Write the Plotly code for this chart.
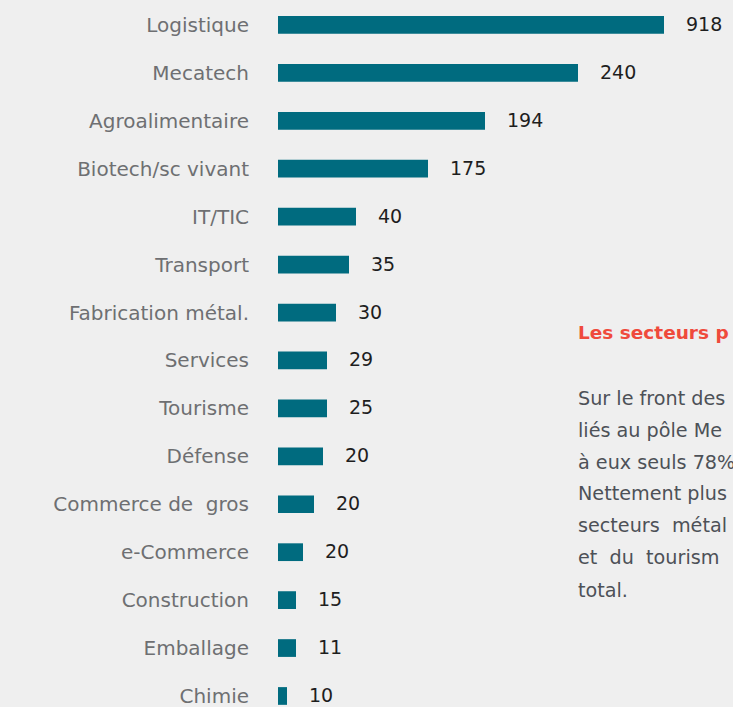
import plotly.graph_objects as go

# Data (top to bottom)
categories = ["Logistique", "Mecatech", "Agroalimentaire", "Biotech/sc vivant", "IT/TIC",
              "Transport", "Fabrication métal.", "Services", "Tourisme", "Défense",
              "Commerce de\u00a0\u00a0gros", "e-Commerce", "Construction", "Emballage", "Chimie"]
values = [918, 240, 194, 175, 40, 35, 30, 29, 25, 20, 20, 20, 15, 11, 10]
# relative bar lengths as drawn in the infographic (not proportional to values)
bar_lengths = [386, 300, 207, 150, 78, 71, 58, 49, 49, 45, 36, 25, 18, 18, 9]

# visible part of the side text (cut by the right edge in the reference)
title_text = "Les secteurs p"
body_lines = [
    "Sur le front des",
    "liés au pôle Me",
    "à eux seuls 78%",
    "Nettement plus",
    "secteurs\u00a0\u00a0métal",
    "et\u00a0\u00a0du\u00a0\u00a0tourism",
    "total.",
]

BG = "#efefef"
BAR = "#006b7f"
FONT = "DejaVu Sans"

W, H = 733, 707
ML = 278

fig = go.Figure()
fig.add_trace(go.Bar(
    x=bar_lengths, y=categories, orientation="h",
    marker=dict(color=BAR, line=dict(width=0)),
    width=0.37, hoverinfo="skip",
))

annotations = []
for cat, v, L in zip(categories, values, bar_lengths):
    annotations.append(dict(
        x=L, y=cat, xref="x", yref="y", text=str(v), showarrow=False,
        xanchor="left", yanchor="middle", xshift=20, yshift=1,
        font=dict(family=FONT, size=19, color="#1e1e1e"),
    ))


def py_to_paper(py):
    return 1 - py / H


annotations.append(dict(
    x=576 - ML, y=py_to_paper(333), xref="x", yref="paper",
    text="<b>" + title_text + "</b>",
    showarrow=False, xanchor="left", yanchor="middle",
    font=dict(family=FONT, size=18.5, color="#ef4a3c"),
))

line_y = [398, 430, 462, 493, 525, 557, 590]
for txt, ly in zip(body_lines, line_y):
    annotations.append(dict(
        x=576 - ML, y=py_to_paper(ly), xref="x", yref="paper", text=txt,
        showarrow=False, xanchor="left", yanchor="middle",
        font=dict(family=FONT, size=19.2, color="#4d5157"),
    ))

fig.update_layout(
    width=W, height=H,
    margin=dict(l=ML, r=0, t=0, b=0),
    paper_bgcolor=BG, plot_bgcolor=BG,
    showlegend=False,
    annotations=annotations,
    xaxis=dict(range=[0, W - ML], visible=False, fixedrange=True),
    yaxis=dict(
        type="category", categoryorder="array", categoryarray=categories,
        range=[14.23, -0.52], showgrid=False, zeroline=False, showline=False,
        ticks="", ticklabelstandoff=28, automargin=False,
        tickfont=dict(family=FONT, size=20, color="#6e6f72"),
        fixedrange=True,
    ),
)

fig.write_html(
    "out.html",
    config={"displayModeBar": False},
    post_script="document.body.style.margin='0';document.body.style.overflow='hidden';document.body.style.background='#efefef';",
)
